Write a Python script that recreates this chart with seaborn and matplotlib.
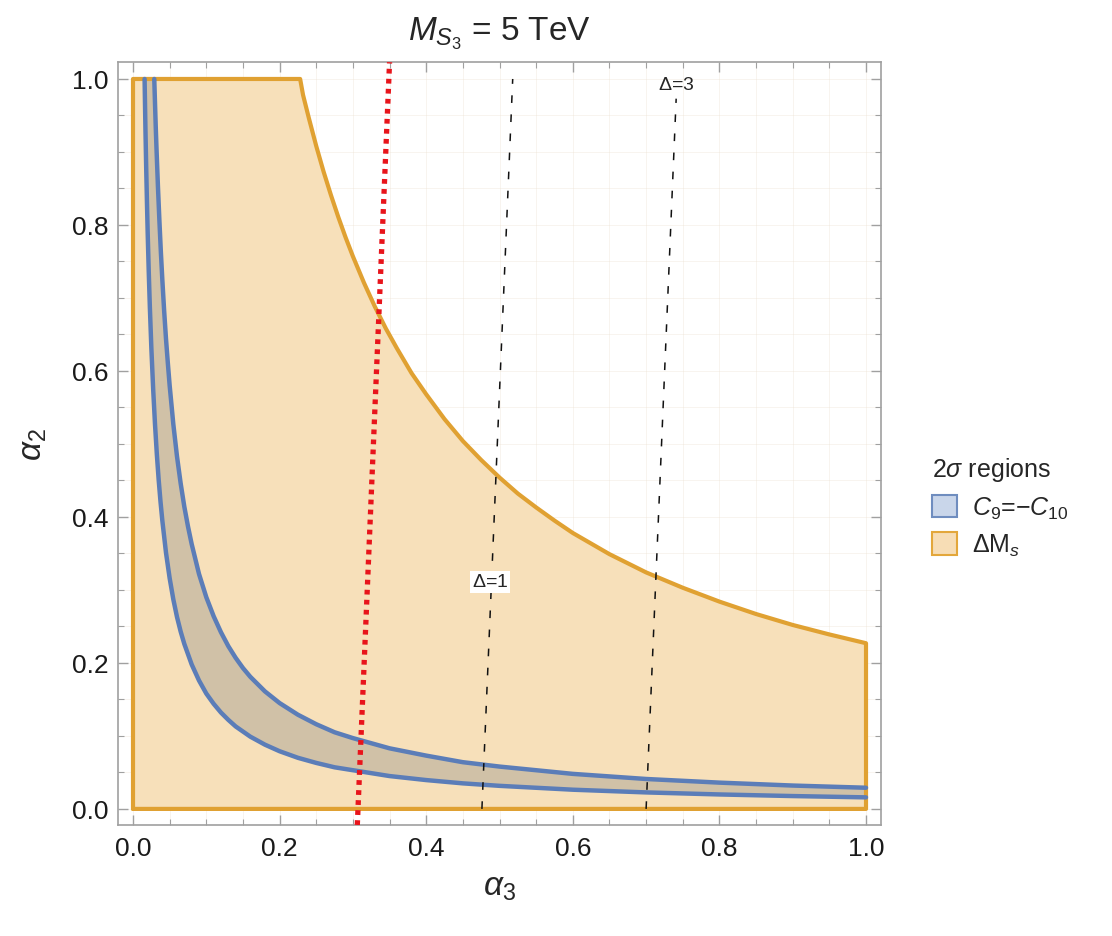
import numpy as np
import pandas as pd
import matplotlib
matplotlib.use("Agg")
import matplotlib.pyplot as plt
import seaborn as sns
from matplotlib.patches import Patch
from matplotlib.ticker import MultipleLocator

# ---- data ----
dms_x = [0.0, 0.0, 0.228, 0.232, 0.236, 0.24, 0.25, 0.26, 0.27, 0.28, 0.29, 0.30, 0.315,
         0.33, 0.345, 0.36, 0.38, 0.40, 0.425, 0.45, 0.475, 0.50, 0.525, 0.55, 0.575, 0.60,
         0.65, 0.70, 0.75, 0.80, 0.85, 0.90, 0.95, 1.00, 1.00]
dms_y = [0.0, 1.0, 1.0, 0.978, 0.962, 0.946, 0.908, 0.873, 0.841, 0.811, 0.783, 0.757, 0.721,
         0.688, 0.658, 0.631, 0.597, 0.568, 0.534, 0.504, 0.478, 0.454, 0.432, 0.413, 0.395,
         0.378, 0.349, 0.324, 0.303, 0.284, 0.267, 0.252, 0.239, 0.227, 0.0]

c9_upper_x = [0.029, 0.030, 0.031, 0.032, 0.034, 0.036, 0.038, 0.040, 0.0425, 0.045, 0.0475,
              0.05, 0.055, 0.06, 0.065, 0.07, 0.075, 0.08, 0.09, 0.10, 0.11, 0.12, 0.13, 0.14,
              0.15, 0.16, 0.18, 0.20, 0.225, 0.25, 0.275, 0.30, 0.35, 0.40, 0.45, 0.50, 0.60,
              0.70, 0.80, 0.90, 1.00]
c9_upper_y = [1.0, 0.967, 0.935, 0.906, 0.853, 0.806, 0.763, 0.725, 0.682, 0.644, 0.611,
              0.58, 0.527, 0.483, 0.446, 0.414, 0.387, 0.363, 0.322, 0.29, 0.264, 0.242, 0.223,
              0.207, 0.193, 0.181, 0.161, 0.145, 0.129, 0.116, 0.105, 0.097, 0.083, 0.073,
              0.064, 0.058, 0.048, 0.041, 0.036, 0.032, 0.029]
c9_lower_x = [0.0158, 0.0165, 0.017, 0.018, 0.019, 0.02, 0.0215, 0.023, 0.025, 0.0275, 0.03,
              0.0325, 0.035, 0.0375, 0.04, 0.045, 0.05, 0.055, 0.06, 0.065, 0.07, 0.08, 0.09,
              0.10, 0.11, 0.12, 0.13, 0.14, 0.16, 0.18, 0.20, 0.225, 0.25, 0.275, 0.30, 0.35,
              0.40, 0.45, 0.50, 0.60, 0.70, 0.80, 0.90, 1.00]
c9_lower_y = [1.0, 0.958, 0.929, 0.878, 0.832, 0.79, 0.735, 0.687, 0.632, 0.575, 0.527,
              0.486, 0.451, 0.421, 0.395, 0.351, 0.316, 0.287, 0.263, 0.243, 0.226, 0.198,
              0.176, 0.158, 0.144, 0.132, 0.122, 0.113, 0.099, 0.088, 0.079, 0.070, 0.063,
              0.057, 0.053, 0.045, 0.0395, 0.035, 0.0316, 0.0263, 0.0226, 0.0198, 0.0176,
              0.0158]

red_x = [0.306, 0.350]
red_y = [-0.022, 1.023]
delta1_x = [0.476, 0.518]
delta1_y = [0.0, 1.0]
delta3_x = [0.700, 0.741]
delta3_y = [0.0, 0.973]

x_ticks = [0.0, 0.2, 0.4, 0.6, 0.8, 1.0]
y_ticks = [0.0, 0.2, 0.4, 0.6, 0.8, 1.0]

# ---- style ----
sns.set_theme(style="white")
plt.rcParams['font.family'] = ['Liberation Sans', 'DejaVu Sans']
plt.rcParams['mathtext.fontset'] = 'custom'
plt.rcParams['mathtext.rm'] = 'Liberation Sans'
plt.rcParams['mathtext.it'] = 'Liberation Sans:italic'
plt.rcParams['mathtext.bf'] = 'Liberation Sans:bold'

ORANGE_EDGE = '#E0A132'
ORANGE_FILL = '#F7E0BA'
BLUE_EDGE = '#5B7DB8'
BAND_FILL = '#D0C1A7'
FRAME = '#A0A0A0'

fig = plt.figure(figsize=(11.12, 9.37), dpi=100)
ax = fig.add_axes([0.1061, 0.1185, 0.6862, 0.8143])

# Delta M_s region
ax.fill(dms_x, dms_y, facecolor=ORANGE_FILL, edgecolor='none', zorder=1)
sns.lineplot(x=dms_x + [dms_x[0]], y=dms_y + [dms_y[0]], sort=False, estimator=None,
             color=ORANGE_EDGE, lw=3, ax=ax, zorder=3)
ax.lines[-1].set_solid_joinstyle('round')

# C9 = -C10 band
band_x = c9_upper_x + c9_lower_x[::-1]
band_y = c9_upper_y + c9_lower_y[::-1]
ax.fill(band_x, band_y, facecolor=BAND_FILL, edgecolor='none', zorder=2)
for xs, ys in [(c9_upper_x, c9_upper_y), (c9_lower_x, c9_lower_y)]:
    sns.lineplot(x=xs, y=ys, sort=False, estimator=None,
                 color=BLUE_EDGE, lw=3.2, ax=ax, zorder=4)
    ax.lines[-1].set_solid_joinstyle('round')

# red dotted line
sns.lineplot(x=red_x, y=red_y, sort=False, estimator=None, color='#E8141B', lw=3.8,
             ax=ax, zorder=6)
ax.lines[-1].set_linestyle((0, (0.9, 1.0)))

# dashed Delta lines
for xs, ys in [(delta1_x, delta1_y), (delta3_x, delta3_y)]:
    sns.lineplot(x=xs, y=ys, sort=False, estimator=None, color='#111111', lw=1.1,
                 ax=ax, zorder=5)
    ax.lines[-1].set_linestyle((0, (5, 7.5)))

ax.text(0.487, 0.311, r'$\Delta$=1', fontsize=14, ha='center', va='center', zorder=7,
        bbox=dict(facecolor='white', edgecolor='none', pad=1.5))
ax.text(0.741, 0.993, r'$\Delta$=3', fontsize=14, ha='center', va='center', zorder=7)

# axes
ax.set_xlim(-0.0205, 1.0205)
ax.set_ylim(-0.022, 1.0233)
ax.set_xticks(x_ticks)
ax.set_yticks(y_ticks)
ax.set_xticklabels([f'{v:.1f}' for v in x_ticks])
ax.set_yticklabels([f'{v:.1f}' for v in y_ticks])
ax.xaxis.set_minor_locator(MultipleLocator(0.05))
ax.yaxis.set_minor_locator(MultipleLocator(0.05))
ax.tick_params(which='both', direction='in', top=True, right=True, bottom=True, left=True,
               color=FRAME, labelsize=19, labelcolor='#1a1a1a')
ax.tick_params(which='major', length=7, width=1)
ax.tick_params(which='minor', length=4, width=0.8)
ax.tick_params(axis='x', pad=8)
ax.tick_params(axis='y', pad=7)
for s in ax.spines.values():
    s.set_color(FRAME)
    s.set_linewidth(1.2)
ax.grid(True, which='both', color='#E9DFCF', lw=0.5, alpha=0.45)
ax.set_axisbelow(True)

ax.set_xlabel(r'$\alpha_3$', fontsize=24, labelpad=8)
ax.set_ylabel(r'$\alpha_2$', fontsize=24, labelpad=16)
ax.set_title(r'$M_{S_3}$ = 5 TeV', fontsize=24, pad=16)

handles = [Patch(facecolor='#C9D6EA', edgecolor='#6F8DBF', lw=1.5, label=r'$C_9$=$-C_{10}$'),
           Patch(facecolor='#F7DDB5', edgecolor='#E3A73B', lw=1.5, label=r'$\Delta$M$_s$')]
leg = fig.legend(handles=handles, title=r'2$\sigma$ regions', loc='upper left',
                 bbox_to_anchor=(0.818, 0.537), frameon=False, fontsize=18,
                 title_fontsize=18, handlelength=1.0, handleheight=1.0, handletextpad=0.6,
                 labelspacing=0.45, alignment='left')

fig.savefig('out.png', dpi=100)
